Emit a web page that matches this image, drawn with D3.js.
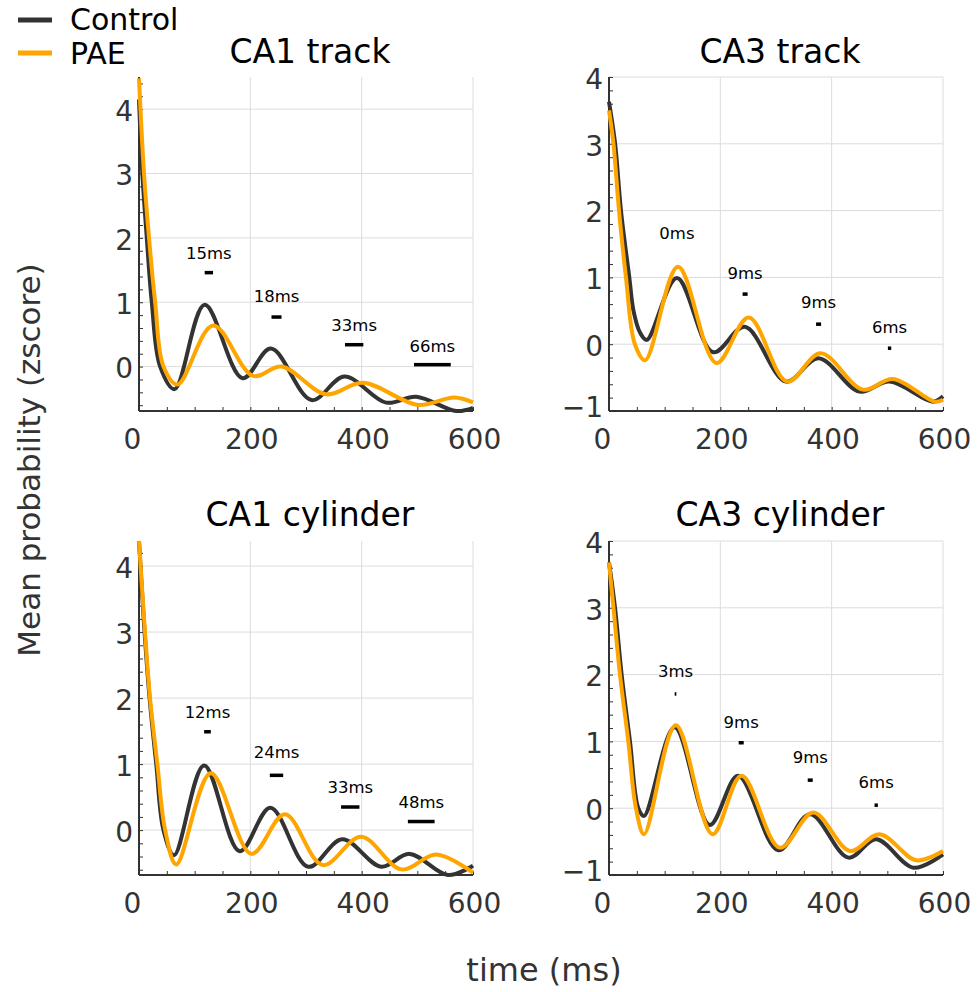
<!DOCTYPE html>
<html>
<head>
<meta charset="utf-8">
<style>
  body { margin: 0; background: #fff; }
  svg text { font-family: "DejaVu Sans", sans-serif; }
</style>
<title>Mean probability (zscore)</title>
</head>
<body>
<script src="https://cdn.jsdelivr.net/npm/d3@7"></script>
<script>
// values: [time ms, zscore]
var timeTicks = [0, 200, 400, 600];

var ca1TrackControl = [[0,4.15],[6,3.0],[14,2.0],[23,1.0],[38,0.0],[64,-0.35],[118,0.96],[186,-0.18],[237,0.28],[310,-0.52],[369,-0.155],[444,-0.56],[498,-0.47],[570,-0.69],[600,-0.64]];
var ca1TrackPAE = [[0,4.48],[9,3.0],[18,2.0],[29,1.0],[44,0.0],[69,-0.28],[133,0.64],[205,-0.145],[256,0.0],[336,-0.43],[402,-0.25],[501,-0.595],[566,-0.48],[600,-0.555]];

var ca3TrackControl = [[0,3.63],[11,3.0],[21.5,2.0],[36.5,1.0],[44,0.5],[56,0.17],[68,0.065],[122,0.99],[187,-0.12],[244,0.26],[318,-0.56],[376,-0.21],[450,-0.71],[504,-0.56],[582,-0.86],[600,-0.78]];
var ca3TrackPAE = [[0,3.5],[8,3.0],[18,2.0],[30.5,1.0],[46.5,0.0],[65,-0.24],[124,1.16],[193,-0.28],[251,0.40],[320,-0.56],[380,-0.135],[456,-0.68],[510,-0.52],[585,-0.86],[600,-0.83]];

var ca1CylControl = [[0,4.38],[10,3.0],[19,2.0],[31,1.0],[44,0.0],[63,-0.38],[117,0.98],[181,-0.32],[236,0.34],[304,-0.555],[365,-0.14],[435,-0.555],[486,-0.36],[555,-0.68],[600,-0.54]];
var ca1CylPAE = [[0,4.38],[10.8,3.0],[19.8,2.0],[33,1.0],[47,0.0],[67,-0.52],[129,0.86],[202,-0.36],[262,0.24],[330,-0.53],[399,-0.10],[471,-0.595],[534,-0.37],[600,-0.645]];

var ca3CylControl = [[0,3.68],[10.8,3.0],[22.7,2.0],[37.7,1.0],[52.6,0.0],[63,-0.115],[118,1.21],[181,-0.25],[232,0.485],[304,-0.63],[361,-0.09],[430,-0.74],[480,-0.465],[547,-0.89],[600,-0.69]];
var ca3CylPAE = [[0,3.68],[8,3.0],[19.7,2.0],[34.7,1.0],[48.4,0.0],[63,-0.39],[120,1.24],[186,-0.39],[238,0.485],[307,-0.59],[367,-0.065],[433,-0.64],[486,-0.39],[552,-0.78],[600,-0.64]];

// peak lag markers: [start ms, lag ms, bar zscore, label zscore]
var ca1TrackLags = [[118,15,1.46,1.67],[238,18,0.77,1.01],[370,33,0.34,0.56],[494,66,0.03,0.23]];
var ca3TrackLags = [[122,0,1.49,1.57],[240,9,0.75,0.97],[372,9,0.30,0.54],[501,6,-0.06,0.175]];
var ca1CylLags = [[117,12,1.49,1.70],[235,24,0.83,1.10],[363,33,0.35,0.565],[483,48,0.13,0.34]];
var ca3CylLags = [[118,3,1.71,1.96],[233,9,0.98,1.2],[357,9,0.42,0.67],[477,6,0.045,0.295]];

var seriesNames = ["Control", "PAE"];
var seriesColors = ["#333333", "#FFA500"];

var panels = [
  {title: "CA1 track", lines: [ca1TrackControl, ca1TrackPAE], lags: ca1TrackLags, ylim: [-0.69, 4.5], col: 0, row: 0},
  {title: "CA3 track", lines: [ca3TrackControl, ca3TrackPAE], lags: ca3TrackLags, ylim: [-1, 4], col: 1, row: 0},
  {title: "CA1 cylinder", lines: [ca1CylControl, ca1CylPAE], lags: ca1CylLags, ylim: [-0.68, 4.38], col: 0, row: 1},
  {title: "CA3 cylinder", lines: [ca3CylControl, ca3CylPAE], lags: ca3CylLags, ylim: [-1, 4], col: 1, row: 1}
];

var W = 980, H = 992;
var colLeft = [139, 609], rowTop = [77, 541];
var pw = 334, ph = 334;

var svg = d3.select("body").append("svg")
    .attr("width", W)
    .attr("height", H);

panels.forEach(function(p) {
  var g = svg.append("g")
      .attr("transform", "translate(" + colLeft[p.col] + "," + rowTop[p.row] + ")");

  var x = d3.scaleLinear().domain([0, 600]).range([0, pw]);
  var y = d3.scaleLinear().domain(p.ylim).range([ph, 0]);

  // grid
  var yMajor = d3.range(Math.ceil(p.ylim[0]), Math.floor(p.ylim[1]) + 1);
  g.selectAll(".hgrid").data(yMajor).enter().append("line")
      .attr("x1", 0).attr("x2", pw)
      .attr("y1", d => y(d)).attr("y2", d => y(d))
      .attr("stroke", "#dcdcdc").attr("stroke-width", 1);
  g.selectAll(".vgrid").data(timeTicks.slice(1)).enter().append("line")
      .attr("x1", d => x(d)).attr("x2", d => x(d))
      .attr("y1", 0).attr("y2", ph)
      .attr("stroke", "#dcdcdc").attr("stroke-width", 1);

  // minor ticks, pointing inward
  var yMinor = d3.range(Math.ceil(p.ylim[0] * 5), Math.floor(p.ylim[1] * 5) + 1).map(d => d / 5);
  g.append("g")
      .call(d3.axisLeft(y).tickValues(yMinor).tickSizeInner(-4).tickSizeOuter(0).tickFormat(""))
      .call(a => a.select(".domain").remove())
      .selectAll("line").attr("stroke", "#333");
  g.append("g")
      .attr("transform", "translate(0," + ph + ")")
      .call(d3.axisBottom(x).tickValues(d3.range(0, 601, 50)).tickSizeInner(-4).tickSizeOuter(0).tickFormat(""))
      .call(a => a.select(".domain").remove())
      .selectAll("line").attr("stroke", "#333");

  // tick labels (the one sitting on the bottom corner is lifted a little so it clears the x labels)
  var yAx = g.append("g")
      .call(d3.axisLeft(y).tickValues(yMajor).tickSize(0).tickPadding(6).tickFormat(d3.format("d")));
  yAx.select(".domain").remove();
  yAx.selectAll("text")
      .attr("font-size", 28).attr("fill", "#333")
      .attr("font-family", "DejaVu Sans")
      .attr("dy", d => d == p.ylim[0] ? "0.18em" : "0.4em");
  var xAx = g.append("g")
      .attr("transform", "translate(0," + ph + ")")
      .call(d3.axisBottom(x).tickValues(timeTicks).tickSize(0).tickPadding(18));
  xAx.select(".domain").remove();
  xAx.selectAll("text")
      .attr("font-size", 28).attr("fill", "#333")
      .attr("font-family", "DejaVu Sans")
      .attr("dx", d => d == 0 ? -7 : 1);

  // axis lines
  g.append("line").attr("x1", 0).attr("x2", 0).attr("y1", 0).attr("y2", ph)
      .attr("stroke", "#333").attr("stroke-width", 2);
  g.append("line").attr("x1", 0).attr("x2", pw).attr("y1", ph).attr("y2", ph)
      .attr("stroke", "#333").attr("stroke-width", 2);

  // curves
  var line = d3.line()
      .x(d => x(d[0]))
      .y(d => y(d[1]))
      .curve(d3.curveCatmullRom.alpha(0.5));
  p.lines.forEach(function(s, i) {
    g.append("path").datum(s)
        .attr("d", line)
        .attr("fill", "none")
        .attr("stroke", seriesColors[i])
        .attr("stroke-width", 4)
        .attr("stroke-linejoin", "round");
  });

  // lag markers
  g.selectAll(".lagbar").data(p.lags).enter().append("rect")
      .attr("x", d => x(d[0]))
      .attr("y", d => y(d[2]) - 1.75)
      .attr("width", d => x(d[0] + d[1]) - x(d[0]))
      .attr("height", 3.5)
      .attr("fill", "#000");
  g.selectAll(".laglabel").data(p.lags).enter().append("text")
      .attr("x", d => x(d[0] + d[1] / 2))
      .attr("y", d => y(d[3]))
      .attr("text-anchor", "middle")
      .attr("font-size", 16.5)
      .attr("fill", "#000")
      .text(d => d[1] + "ms");

  // title
  svg.append("text")
      .attr("x", colLeft[p.col] + pw / 2 + 4)
      .attr("y", p.row == 0 ? 63 : 526)
      .attr("text-anchor", "middle")
      .attr("font-size", 33)
      .attr("fill", "#000")
      .text(p.title);
});

// axis titles
svg.append("text")
    .attr("transform", "translate(40,460) rotate(-90)")
    .attr("text-anchor", "middle")
    .attr("font-size", 31)
    .attr("fill", "#333")
    .text("Mean probability (zscore)");
svg.append("text")
    .attr("x", 544)
    .attr("y", 981)
    .attr("text-anchor", "middle")
    .attr("font-size", 32)
    .attr("fill", "#333")
    .text("time (ms)");

// legend
var legend = svg.append("g");
seriesNames.forEach(function(name, i) {
  legend.append("line")
      .attr("x1", 18).attr("x2", 52)
      .attr("y1", 20 + i * 33).attr("y2", 20 + i * 33)
      .attr("stroke", seriesColors[i])
      .attr("stroke-width", 5);
  legend.append("text")
      .attr("x", 70)
      .attr("y", 30 + i * 34)
      .attr("font-size", 30)
      .attr("fill", "#000")
      .text(name);
});
</script>
</body>
</html>
